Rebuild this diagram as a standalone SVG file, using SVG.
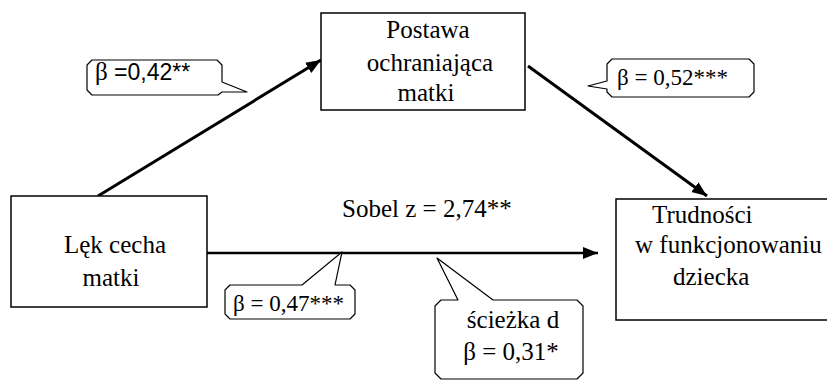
<svg xmlns="http://www.w3.org/2000/svg" width="827" height="382" viewBox="0 0 827 382">
<style>
.box{fill:#fff;stroke:#000;stroke-width:1.5}
.call{fill:#fff;stroke:#000;stroke-width:1.2;stroke-linejoin:round}
.t{font-family:"Liberation Serif","Times New Roman",serif;font-size:25px;fill:#000}
.c{font-family:"Liberation Serif","Times New Roman",serif;font-size:23px;fill:#000}
.s{font-family:"Liberation Sans",Arial,sans-serif;font-size:23px;fill:#000}
.ln{stroke:#000;fill:none}
</style>
<defs>
<marker id="ah" markerUnits="userSpaceOnUse" markerWidth="16" markerHeight="13" refX="15" refY="6" orient="auto">
<path d="M0,0 L15,6 L0,12 Z" fill="#000"/>
</marker>
</defs>
<rect width="827" height="382" fill="#fff"/>
<g id="connectors">
<line class="ln" x1="98" y1="196" x2="321" y2="60" stroke-width="3" marker-end="url(#ah)"/>
<line class="ln" x1="528" y1="66" x2="707" y2="196" stroke-width="3" marker-end="url(#ah)"/>
<line class="ln" x1="207" y1="253" x2="598" y2="253" stroke-width="2.5" marker-end="url(#ah)"/>
</g>
<g id="node-postawa">
<rect class="box" x="321" y="13" width="204" height="97"/>
<text class="t" text-anchor="middle"><tspan x="428" y="38">Postawa</tspan><tspan x="430" y="71">ochraniająca</tspan><tspan x="426" y="101">matki</tspan></text>
</g>
<g id="node-lek">
<rect class="box" x="11" y="196" width="196" height="111"/>
<text class="t" text-anchor="middle"><tspan x="115" y="253">Lęk cecha</tspan><tspan x="111" y="286">matki</tspan></text>
</g>
<g id="node-trudnosci">
<rect class="box" x="616" y="199" width="220" height="121"/>
<text class="t"><tspan x="652" y="223">Trudności</tspan><tspan x="635" y="253">w funkcjonowaniu</tspan><tspan x="673" y="285">dziecka</tspan></text>
</g>
<g id="label-sobel">
<text class="t" x="342" y="217">Sobel z = 2,74**</text>
</g>
<g id="callout-a">
<path class="call" d="M92,60 H217 L222,65 V82 L247,92 L222,92 L218,95 H92 L87,90 V65 Z"/>
<text class="s" x="95" y="80"><tspan style="font-family:'Liberation Serif',serif;font-size:25px">β</tspan> =0,42**</text>
</g>
<g id="callout-b">
<path class="call" d="M612,59 H749 L754,64 V92 L749,97 H612 L607,92 V89 L588,86 L607,81 V64 Z"/>
<text class="c" x="617" y="85">β = 0,52***</text>
</g>
<g id="callout-c">
<path class="call" d="M230,285 H302 L342,252 L335,285 H350 L355,290 V314 L350,319 H230 L225,314 V290 Z"/>
<text class="c" x="233" y="311">β = 0,47***</text>
</g>
<g id="callout-d">
<path class="call" d="M441,300 H458 L437,258 L493,300 H577 L583,306 V373 L577,379 H441 L435,373 V306 Z"/>
<text class="t" text-anchor="middle"><tspan x="513" y="328">ścieżka d</tspan><tspan x="511" y="360">β = 0,31*</tspan></text>
</g>
</svg>
